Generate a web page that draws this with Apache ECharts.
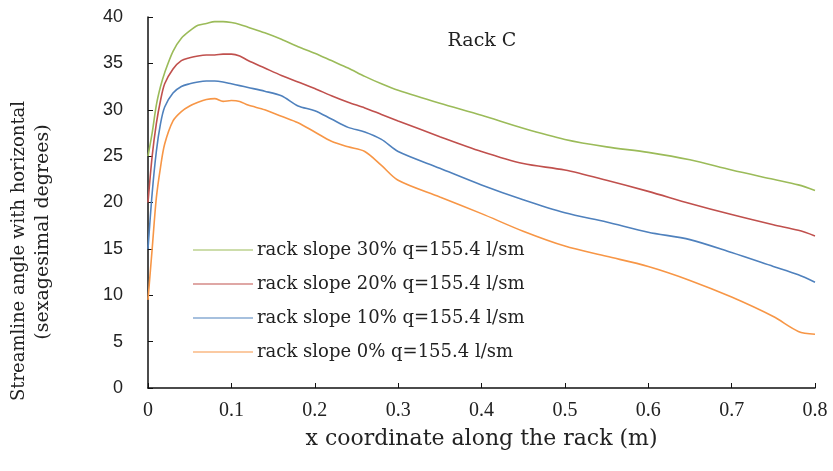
<!DOCTYPE html>
<html>
<head>
<meta charset="utf-8">
<script src="https://cdn.jsdelivr.net/npm/echarts@6/dist/echarts.min.js"></script>
<style>
html,body{margin:0;padding:0;background:#fff;}
#chart{width:833px;height:471px;}
</style>
</head>
<body>
<div id="chart"></div>
<script>
const xValues = [0, 0.005, 0.01, 0.015, 0.02, 0.03, 0.04, 0.05, 0.06, 0.07, 0.08, 0.09, 0.1, 0.11, 0.12, 0.14, 0.16, 0.18, 0.2, 0.22, 0.24, 0.26, 0.28, 0.3, 0.35, 0.4, 0.45, 0.5, 0.55, 0.6, 0.65, 0.7, 0.75, 0.78, 0.8];

const slope30 = [25, 27.5, 30.5, 32.5, 34, 36.3, 37.7, 38.5, 39.1, 39.3, 39.5, 39.5, 39.4, 39.2, 38.9, 38.3, 37.6, 36.8, 36.1, 35.3, 34.5, 33.6, 32.8, 32.1, 30.7, 29.4, 28.0, 26.8, 26.0, 25.4, 24.6, 23.5, 22.5, 21.9, 21.3];
const slope20 = [20, 25, 28.5, 31, 32.8, 34.4, 35.3, 35.6, 35.8, 35.9, 35.9, 36.0, 36.0, 35.8, 35.3, 34.5, 33.7, 33.0, 32.3, 31.5, 30.8, 30.2, 29.5, 28.8, 27.1, 25.5, 24.2, 23.5, 22.4, 21.2, 19.9, 18.7, 17.6, 17.0, 16.4];
const slope10 = [15, 21, 25.5, 28.5, 30.3, 31.8, 32.5, 32.8, 33.0, 33.1, 33.1, 33.0, 32.8, 32.6, 32.4, 32.0, 31.5, 30.4, 29.9, 29.0, 28.1, 27.6, 26.8, 25.5, 23.7, 21.9, 20.3, 18.9, 17.9, 16.8, 16.0, 14.6, 13.1, 12.2, 11.4];
const slope0 = [9.5, 15, 20.5, 23.8, 26.3, 28.8, 29.8, 30.4, 30.8, 31.1, 31.2, 30.9, 31.0, 30.9, 30.5, 30.0, 29.3, 28.6, 27.6, 26.6, 26.0, 25.5, 24.0, 22.4, 20.6, 18.8, 16.9, 15.3, 14.2, 13.1, 11.6, 9.8, 7.7, 6.1, 5.8];

const seriesNames = ['rack slope 30% q=155.4 l/sm', 'rack slope 20% q=155.4 l/sm', 'rack slope 10% q=155.4 l/sm', 'rack slope 0% q=155.4 l/sm'];
const seriesColors = ['#9bbb59', '#c0504d', '#4f81bd', '#f79646'];
const seriesValues = [slope30, slope20, slope10, slope0];

const xTicks = [0, 0.1, 0.2, 0.3, 0.4, 0.5, 0.6, 0.7, 0.8];
const yTicks = [0, 5, 10, 15, 20, 25, 30, 35, 40];

const chartTitle = 'Rack C';
const xTitle = 'x coordinate along the rack (m)';
const yTitle1 = 'Streamline angle with horizontal';
const yTitle2 = '(sexagesimal degrees)';

const wideSerif = '"DejaVu Serif", serif';
const serif = '"Liberation Serif", "Times New Roman", serif';
const sans = '"Liberation Sans", Arial, sans-serif';

const chart = echarts.init(document.getElementById('chart'), null, {renderer: 'canvas'});
chart.setOption({
  animation: false,
  backgroundColor: '#ffffff',
  grid: {left: 148, right: 18, top: 17, bottom: 83, containLabel: false},
  title: {
    text: chartTitle, left: 482, top: 32, textAlign: 'center', padding: 0,
    textStyle: {fontFamily: wideSerif, fontSize: 19, fontWeight: 'normal', color: '#222'}
  },
  legend: {
    orient: 'vertical', left: 193, top: 241, padding: 0, itemWidth: 60, itemHeight: 14, itemGap: 16,
    icon: 'path://M0,7 L60,7 L60,8 L0,8 Z',
    textStyle: {fontFamily: wideSerif, fontSize: 18, color: '#222', padding: [0,0,0,-1]},
    data: seriesNames
  },
  xAxis: {
    type: 'value', min: 0, max: 0.8, interval: 0.1,
    name: xTitle, nameLocation: 'middle', nameGap: 40,
    nameTextStyle: {fontFamily: wideSerif, fontSize: 22, color: '#222'},
    axisLine: {show: true, lineStyle: {color: '#111', width: 1.5}},
    axisTick: {show: true, inside: true, length: 5, lineStyle: {color: '#111'}},
    axisLabel: {fontFamily: serif, fontSize: 20, color: '#222', margin: 13,
      formatter: function (v) { const t = xTicks.find(function (k) { return Math.abs(k - v) < 1e-9; }); return t === undefined ? '' : String(t); }},
    splitLine: {show: false}
  },
  yAxis: {
    type: 'value', min: 0, max: 40, interval: 5,
    axisLine: {show: true, lineStyle: {color: '#111', width: 1.5}},
    axisTick: {show: true, inside: true, length: 5, lineStyle: {color: '#111'}},
    axisLabel: {fontFamily: sans, fontSize: 18, color: '#222', margin: 25,
      formatter: function (v) { return yTicks.indexOf(v) >= 0 ? String(v) : ''; }},
    splitLine: {show: false}
  },
  graphic: [
    {type: 'text', x: 19, y: 251, rotation: Math.PI / 2,
     style: {text: yTitle1, fontFamily: wideSerif, fontSize: 18, fill: '#222', align: 'center', verticalAlign: 'middle'}},
    {type: 'text', x: 43, y: 232, rotation: Math.PI / 2,
     style: {text: yTitle2, fontFamily: wideSerif, fontSize: 19, fill: '#222', align: 'center', verticalAlign: 'middle'}}
  ],
  series: seriesNames.map(function (name, i) {
    return {
      name: name, type: 'line', symbol: 'none', smooth: 0.3,
      color: seriesColors[i],
      lineStyle: {color: seriesColors[i], width: 1.6},
      data: xValues.map(function (x, j) { return [x, seriesValues[i][j]]; })
    };
  })
});
</script>
</body>
</html>
